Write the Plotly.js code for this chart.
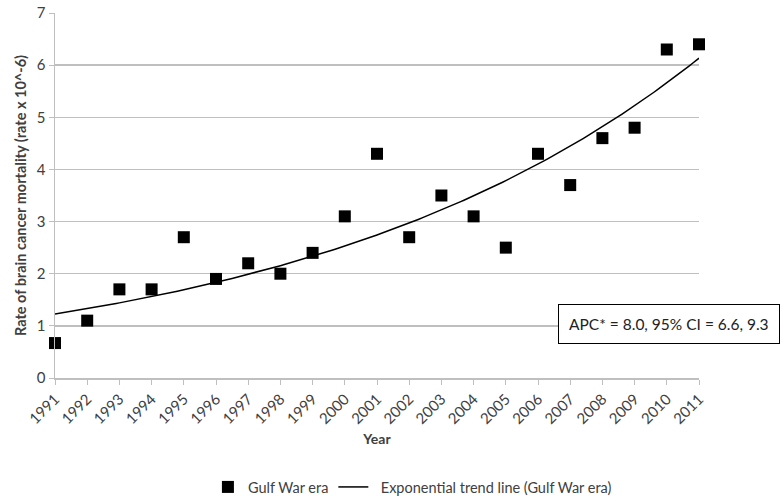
<!DOCTYPE html>
<html>
<head>
<meta charset="utf-8">
<script src="https://cdn.plot.ly/plotly-3.0.1.min.js"></script>
<style>html,body{margin:0;padding:0;background:#fff;}#chart{width:782px;height:500px;}</style>
</head>
<body>
<div id="chart"></div>
<script>
const years = [1991,1992,1993,1994,1995,1996,1997,1998,1999,2000,2001,2002,2003,2004,2005,2006,2007,2008,2009,2010,2011];
const rates = [0.67,1.1,1.7,1.7,2.7,1.9,2.2,2.0,2.4,3.1,4.3,2.7,3.5,3.1,2.5,4.3,3.7,4.6,4.8,6.3,6.4];
const apcText = "APC* = 8.0, 95% CI = 6.6, 9.3";

// Exponential trend line (least squares on log values), as in the spreadsheet
const n = years.length;
const mx = years.reduce((a,b)=>a+b,0)/n;
const lnY = rates.map(v=>Math.log(v));
const my = lnY.reduce((a,b)=>a+b,0)/n;
let sxy=0, sxx=0;
for(let i=0;i<n;i++){sxy+=(years[i]-mx)*(lnY[i]-my); sxx+=(years[i]-mx)*(years[i]-mx);}
const slope = sxy/sxx, icpt = my - slope*mx;
const trendX = [], trendY = [];
for(let k=0;k<=200;k++){const x = years[0] + (years[n-1]-years[0])*k/200; trendX.push(x); trendY.push(Math.exp(icpt+slope*x));}

const font = 'Lato, "Open Sans", sans-serif';
const data = [
  {x: years, y: rates, type:'scatter', mode:'markers', name:'Gulf War era', cliponaxis:false,
   marker:{symbol:'square', size:12, color:'#000'}},
  {x: trendX, y: trendY, type:'scatter', mode:'lines', name:'\u00a0\u00a0Exponential trend line (Gulf War era)',
   line:{color:'#000', width:1.5}}
];
const layout = {
  width:782, height:500,
  margin:{l:55, r:83, t:13, b:122, autoexpand:false},
  paper_bgcolor:'#fff', plot_bgcolor:'#fff',
  font:{family:font, size:12, color:'#404040'},
  showlegend:true,
  legend:{orientation:'h', x:0.555, xanchor:'center', yref:'container', y:0.026, yanchor:'middle',
          font:{family:font, size:14.5, color:'#404040'}, itemwidth:30},
  xaxis:{range:[1991,2011], tickmode:'array', tickvals:years, ticktext:years.map(String), automargin:false,
         tickangle:-45, showgrid:false, zeroline:false, showline:true, linecolor:'#bfbfbf', linewidth:1.5,
         ticks:'outside', ticklen:5, tickcolor:'#bfbfbf', tickfont:{size:15, color:'#404040'},
         title:{text:'<b>Year</b>', font:{size:14, color:'#404040'}, standoff:8}},
  yaxis:{range:[0,7], dtick:1, showgrid:true, gridcolor:'#bfbfbf', gridwidth:1.5, zeroline:false, automargin:false,
         showline:true, linecolor:'#bfbfbf', linewidth:1.5, ticks:'outside', ticklen:5, tickcolor:'#bfbfbf',
         tickfont:{size:15, color:'#404040'},
         title:{text:'<b>Rate of brain cancer mortality (rate x 10^-6)</b>', font:{size:14.5, color:'#404040'}, standoff:6}},
  annotations:[{xref:'paper', yref:'paper', x:0, y:0.147, xanchor:'left', yanchor:'middle',
     text:apcText, showarrow:false, font:{family:font, size:15.5, color:'#222'},
     bordercolor:'#000', borderwidth:1, borderpad:10, bgcolor:'#fff', xshift:503}]
};
Plotly.newPlot('chart', data, layout, {displayModeBar:false, staticPlot:true});
</script>
</body>
</html>
